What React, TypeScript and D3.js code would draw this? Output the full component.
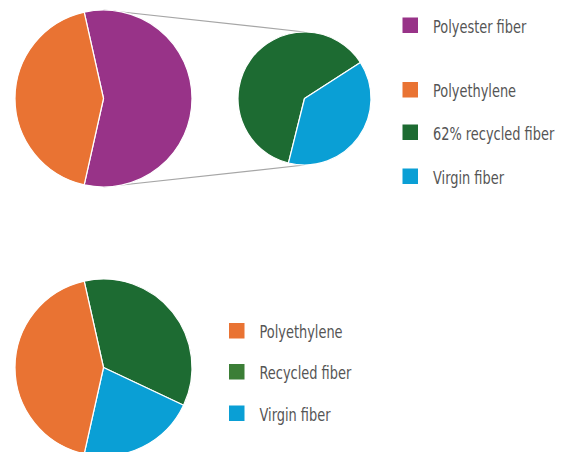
import { useEffect, useRef } from "react";
import { select, pie, arc } from "d3";

// main pie (top): polyester gets split out into the small pie
const mainCategories = ["Polyester fiber", "Polyethylene"];
const mainValues = [57, 43];

// secondary pie: breakdown of polyester fiber
const splitCategories = ["62% recycled fiber", "Virgin fiber"];
const splitValues = [62, 38];

// bottom pie: everything flattened
const flatCategories = ["Recycled fiber", "Virgin fiber", "Polyethylene"];
const flatValues = [35.5, 21.5, 43];

const colors: Record<string, string> = {
  "Polyester fiber": "#983388",
  Polyethylene: "#e97333",
  "62% recycled fiber": "#1d6b32",
  "Virgin fiber": "#0a9fd5",
  "Recycled fiber": "#1d6b32",
};
const legendColors: Record<string, string> = { "Recycled fiber": "#3b7e36" };

const deg = Math.PI / 180;

const drawChart = (ref: HTMLDivElement, size = { w: 561, h: 452 }) => {
  const canvas = select(ref);
  canvas.selectAll("svg").remove();

  const svg = canvas
    .append("svg")
    .attr("width", size.w)
    .attr("height", size.h)
    .style("font-family", "'DejaVu Sans Condensed', 'Liberation Sans Narrow', sans-serif");

  const big = { cx: 103.5, cy: 98.5, r: 88.5 };
  const small = { cx: 304.5, cy: 98.5, r: 66.5 };
  const low = { cx: 103.5, cy: 367.5, r: 88.5 };

  // first slice centred on the right-hand side
  const mainStart = Math.PI / 2 - (mainValues[0] / 100) * Math.PI;

  // connector lines drawn first so the pies sit on top
  svg
    .append("g")
    .selectAll("line")
    .data([-1, 1])
    .join("line")
    .attr("x1", big.cx)
    .attr("y1", (s) => big.cy + s * big.r)
    .attr("x2", small.cx)
    .attr("y2", (s) => small.cy + s * small.r)
    .attr("stroke", "#a6a6a6")
    .attr("stroke-width", 1.2);

  const drawPie = (
    c: { cx: number; cy: number; r: number },
    cats: string[],
    vals: number[],
    start: number
  ) => {
    const arcs = pie<number>()
      .sort(null)
      .startAngle(start)
      .endAngle(start + 2 * Math.PI)(vals);
    const a = arc<any>().innerRadius(0).outerRadius(c.r);
    svg
      .append("g")
      .attr("transform", `translate(${c.cx},${c.cy})`)
      .selectAll("path")
      .data(arcs)
      .join("path")
      .attr("d", a)
      .attr("fill", (d, i) => colors[cats[i]])
      .attr("stroke", "white")
      .attr("stroke-width", 1.2)
      .attr("stroke-linejoin", "round");
  };

  drawPie(big, mainCategories, mainValues, mainStart);
  drawPie(small, splitCategories, splitValues, 194 * deg);
  drawPie(low, flatCategories, flatValues, mainStart);

  const drawLegend = (cats: string[], x: number, ys: number[]) => {
    const g = svg
      .append("g")
      .selectAll("g")
      .data(cats)
      .join("g")
      .attr("transform", (d, i) => `translate(${x},${ys[i]})`);
    g.append("rect")
      .attr("x", 0)
      .attr("y", -7.5)
      .attr("width", 15.5)
      .attr("height", 15.5)
      .attr("fill", (d) => legendColors[d] || colors[d]);
    // the original face is much narrower, so squeeze it horizontally
    g.append("text")
      .attr("transform", "translate(30.5,7.5) scale(0.8,1)")
      .attr("fill", "#555")
      .attr("font-size", 18)
      .text((d) => d);
  };

  drawLegend([mainCategories[0], mainCategories[1], ...splitCategories], 402.5, [25, 89.5, 132, 176]);
  drawLegend(["Polyethylene", "Recycled fiber", "Virgin fiber"], 229, [330.5, 371.5, 413]);
};

export default function App() {
  const ref = useRef<HTMLDivElement>(null);

  useEffect(() => {
    if (ref.current) drawChart(ref.current);
  }, []);

  return <div ref={ref} style={{ position: "absolute", left: 0, top: 0 }}></div>;
}
